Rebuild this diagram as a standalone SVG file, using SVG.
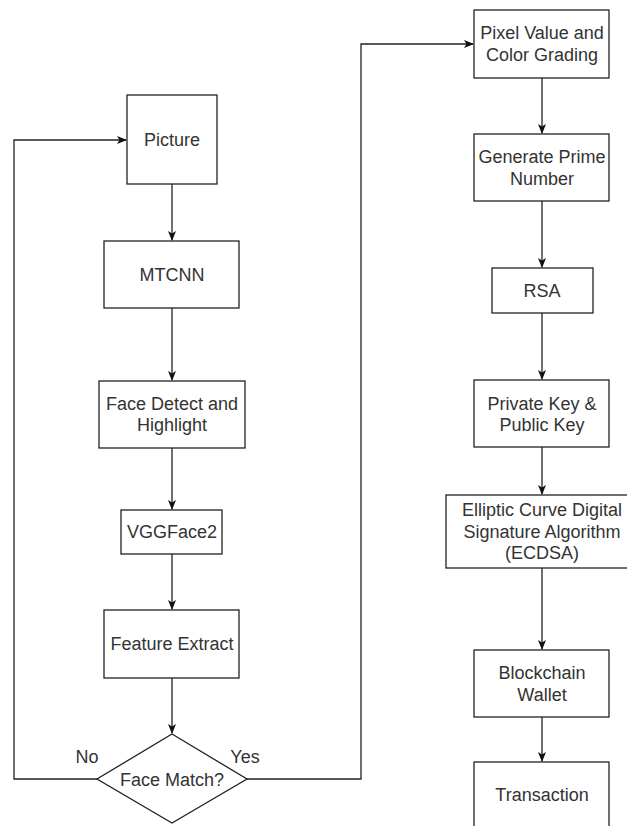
<svg xmlns="http://www.w3.org/2000/svg" width="627" height="826" viewBox="0 0 627 826">
  <defs>
    <marker id="arrow" viewBox="0 0 10 8" refX="9" refY="4" markerWidth="10" markerHeight="8" markerUnits="userSpaceOnUse" orient="auto">
      <path d="M0,0 L10,4 L0,8 L2.5,4 z" fill="#111"/>
    </marker>
  </defs>
  <style>
    .box { fill: #ffffff; stroke: #222; stroke-width: 1.3; }
    .lbl { font-family: "Liberation Sans", Arial, sans-serif; font-size: 18px; fill: #333; text-anchor: middle; dominant-baseline: central; }
    .edge { fill: none; stroke: #222; stroke-width: 1.3; marker-end: url(#arrow); }
  </style>
  <rect width="627" height="826" fill="#ffffff"/>

  <g id="connectors">
    <path class="edge" d="M172,184 V240"/>
    <path class="edge" d="M172,308 V380"/>
    <path class="edge" d="M172,448 V509"/>
    <path class="edge" d="M172,554 V609"/>
    <path class="edge" d="M172,678 V733"/>
    <path class="edge" d="M97,779 H14 V140 H126"/>
    <path class="edge" d="M247,779 H361 V44 H473"/>
    <path class="edge" d="M542,78 V133"/>
    <path class="edge" d="M542,201 V267"/>
    <path class="edge" d="M542,313 V379"/>
    <path class="edge" d="M542,447 V494"/>
    <path class="edge" d="M542,568 V649"/>
    <path class="edge" d="M542,717 V761"/>
  </g>

  <g id="picture">
    <rect class="box" x="127" y="95" width="90" height="89"/>
    <text class="lbl" x="172" y="140">Picture</text>
  </g>
  <g id="mtcnn">
    <rect class="box" x="104" y="241" width="135" height="67"/>
    <text class="lbl" x="172" y="275">MTCNN</text>
  </g>
  <g id="face-detect">
    <rect class="box" x="99" y="381" width="146" height="67"/>
    <text class="lbl" x="172" y="404">Face Detect and</text>
    <text class="lbl" x="172" y="425">Highlight</text>
  </g>
  <g id="vggface2">
    <rect class="box" x="121" y="510" width="101" height="44"/>
    <text class="lbl" x="172" y="532">VGGFace2</text>
  </g>
  <g id="feature-extract">
    <rect class="box" x="104" y="610" width="135" height="68"/>
    <text class="lbl" x="172" y="644">Feature Extract</text>
  </g>
  <g id="face-match">
    <polygon class="box" points="172,734 247,779 172,823 97,779"/>
    <text class="lbl" x="172" y="780">Face Match?</text>
    <text class="lbl" x="87" y="757">No</text>
    <text class="lbl" x="245" y="757">Yes</text>
  </g>

  <g id="pixel-value">
    <rect class="box" x="474" y="10" width="135" height="68"/>
    <text class="lbl" x="542" y="33">Pixel Value and</text>
    <text class="lbl" x="542" y="55">Color Grading</text>
  </g>
  <g id="prime">
    <rect class="box" x="474" y="134" width="135" height="67"/>
    <text class="lbl" x="542" y="157">Generate Prime</text>
    <text class="lbl" x="542" y="179">Number</text>
  </g>
  <g id="rsa">
    <rect class="box" x="492" y="268" width="101" height="45"/>
    <text class="lbl" x="542" y="291">RSA</text>
  </g>
  <g id="keys">
    <rect class="box" x="474" y="380" width="135" height="67"/>
    <text class="lbl" x="542" y="404">Private Key &amp;</text>
    <text class="lbl" x="542" y="425">Public Key</text>
  </g>
  <g id="ecdsa">
    <rect class="box" x="446" y="495" width="192" height="73"/>
    <text class="lbl" x="542" y="510">Elliptic Curve Digital</text>
    <text class="lbl" x="542" y="531.5">Signature Algorithm</text>
    <text class="lbl" x="542" y="553">(ECDSA)</text>
  </g>
  <g id="wallet">
    <rect class="box" x="474" y="650" width="135" height="67"/>
    <text class="lbl" x="542" y="673">Blockchain</text>
    <text class="lbl" x="542" y="695">Wallet</text>
  </g>
  <g id="transaction">
    <rect class="box" x="474" y="762" width="135" height="80"/>
    <text class="lbl" x="542" y="795">Transaction</text>
  </g>
</svg>
